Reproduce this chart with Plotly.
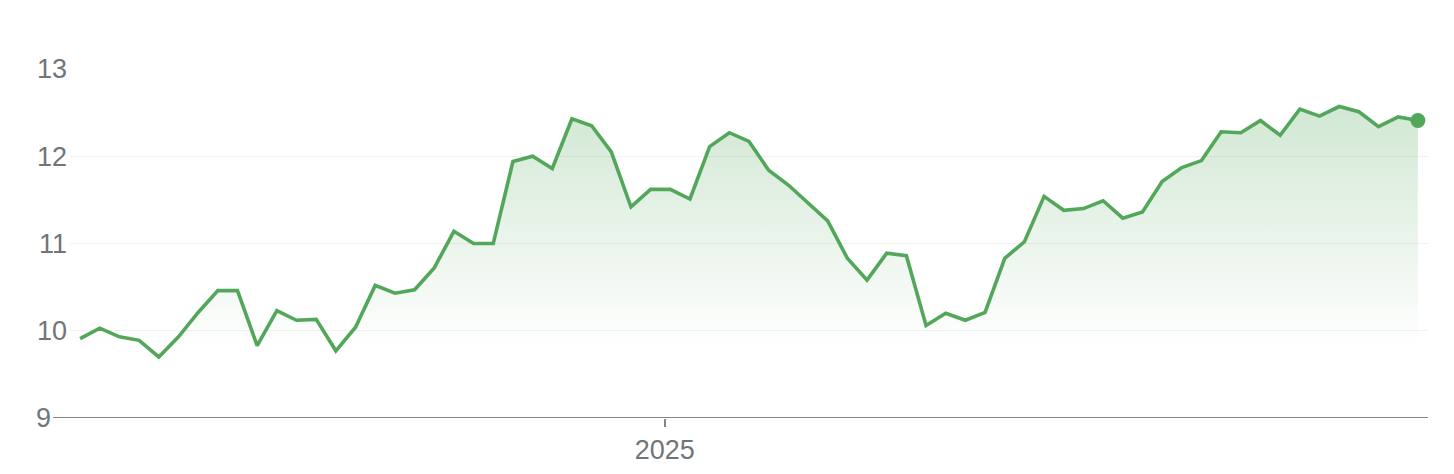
import pandas as pd
import plotly.graph_objects as go

# weekly closes
start_date = "2024-06-07"
prices = [
    9.91, 10.03, 9.93, 9.89, 9.70, 9.93, 10.21, 10.46, 10.46, 9.83,
    10.23, 10.12, 10.13, 9.77, 10.04, 10.52, 10.43, 10.47, 10.72, 11.14,
    11.00, 11.00, 11.94, 12.00, 11.86, 12.43, 12.35, 12.05, 11.42, 11.62,
    11.62, 11.51, 12.11, 12.27, 12.17, 11.84, 11.67, 11.47, 11.26, 10.83,
    10.58, 10.89, 10.86, 10.06, 10.20, 10.12, 10.21, 10.83, 11.02, 11.54,
    11.38, 11.40, 11.49, 11.29, 11.36, 11.71, 11.87, 11.95, 12.28, 12.27,
    12.41, 12.24, 12.54, 12.46, 12.57, 12.51, 12.34, 12.45, 12.41,
]
dates = pd.date_range(start_date, periods=len(prices), freq="7D")

y_ticks = [10, 11, 12, 13]
x_ticks = ["2025-01-01"]
x_labels = ["2025"]

green = "#53a75b"
grey = "#70757a"
font = "Liberation Sans, Arial, sans-serif"
fsize = 27

fig = go.Figure()

fig.add_trace(go.Scatter(
    x=dates,
    y=prices,
    mode="lines",
    line=dict(color=green, width=3.6),
    fill="tozeroy",
    fillgradient=dict(
        type="vertical",
        start=9.8,
        stop=12.6,
        colorscale=[[0, "rgba(83,167,91,0)"], [1, "rgba(83,167,91,0.27)"]],
    ),
    hoverinfo="skip",
    showlegend=False,
))

fig.add_trace(go.Scatter(
    x=[dates[-1]],
    y=[prices[-1]],
    mode="markers",
    marker=dict(color=green, size=15),
    cliponaxis=False,
    hoverinfo="skip",
    showlegend=False,
))

half_week = pd.Timedelta(days=3.6)

# the page body adds 8px of margin, so the figure is sized a little smaller
fig.update_layout(
    width=1446,
    height=466,
    margin=dict(l=62, r=26, t=61, b=56),
    paper_bgcolor="white",
    plot_bgcolor="white",
    font=dict(family=font, size=fsize, color=grey),
    xaxis=dict(
        range=[dates[0] - half_week, dates[-1] + half_week],
        tickvals=x_ticks,
        ticktext=x_labels,
        ticks="outside",
        ticklen=8,
        tickwidth=2,
        tickcolor="#80868b",
        showgrid=False,
        showline=False,
        zeroline=False,
        automargin=False,
        tickfont=dict(size=fsize, color=grey),
    ),
    yaxis=dict(
        range=[9, 13],
        tickvals=y_ticks,
        showgrid=True,
        gridcolor="#f1f1f1",
        gridwidth=1,
        zeroline=False,
        showline=False,
        ticks="",
        ticklabelstandoff=2,
        automargin=False,
        tickfont=dict(size=fsize, color=grey),
    ),
)

# baseline at 9 runs a little past the plot's left edge, with its label at the end
fig.add_shape(
    type="line", xref="paper", yref="y",
    x0=-17 / 1358, x1=1, y0=9, y1=9,
    line=dict(color="#80868b", width=2),
)
fig.add_annotation(
    xref="paper", yref="y", x=-17 / 1358, y=9,
    text="9", showarrow=False, xanchor="right", yanchor="middle",
    font=dict(size=fsize, color=grey, family=font),
)

fig.write_html("out.html")
